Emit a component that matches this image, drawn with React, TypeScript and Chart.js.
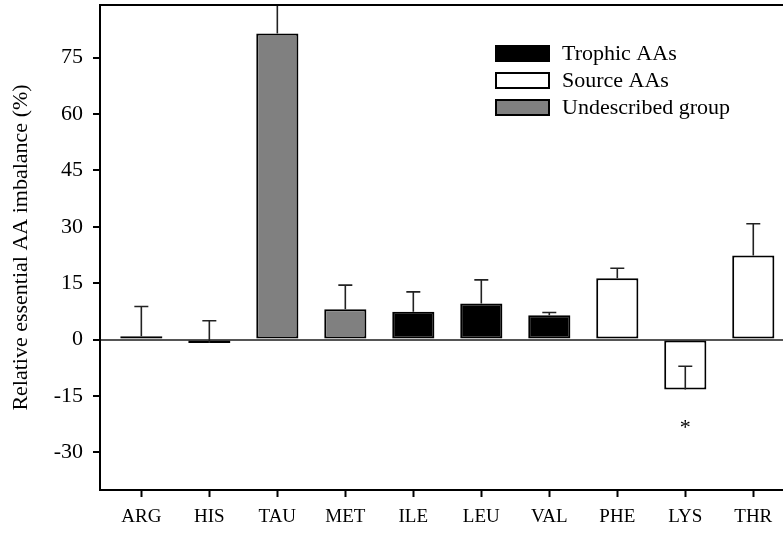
import React, { useEffect, useRef } from "react";
import { Chart, registerables } from "chart.js";

Chart.register(...registerables);

const categories = ["ARG", "HIS", "TAU", "MET", "ILE", "LEU", "VAL", "PHE", "LYS", "THR"];
const values = [0.9, -0.9, 81.4, 8.1, 7.4, 9.6, 6.5, 16.3, -13.3, 22.4];
const errorEnds = [8.8, 5.0, 100, 14.5, 12.7, 15.9, 7.2, 19.0, -7.1, 30.8];
// group index: 0 = Trophic, 1 = Source, 2 = Undescribed
const groups = [2, 2, 2, 2, 0, 0, 0, 1, 1, 1];
const groupLabels = ["Trophic AAs", "Source AAs", "Undescribed group"];
const groupColors = ["#000000", "#ffffff", "#808080"];
const yTickValues = [-30, -15, 0, 15, 30, 45, 60, 75];
const yMin = -40;
const yMax = 89;
const starCategory = 8;
const starValue = -22.5;

const FONT = "'Liberation Serif', 'Times New Roman', serif";

const overlayPlugin = {
  id: "overlay",
  afterDatasetsDraw(chart: any) {
    const { ctx, chartArea, scales } = chart;
    const xs = scales.x;
    const ys = scales.y;
    ctx.save();
    ctx.beginPath();
    ctx.rect(chartArea.left - 1, chartArea.top, chartArea.right - chartArea.left + 2, chartArea.bottom - chartArea.top);
    ctx.clip();
    ctx.strokeStyle = "#222";
    ctx.lineWidth = 1.6;
    categories.forEach((_, i) => {
      const x = xs.getPixelForValue(i);
      const y0 = ys.getPixelForValue(values[i]);
      const y1 = ys.getPixelForValue(errorEnds[i]);
      ctx.beginPath();
      ctx.moveTo(x, y0);
      ctx.lineTo(x, y1);
      ctx.moveTo(x - 7, y1);
      ctx.lineTo(x + 7, y1);
      ctx.stroke();
    });
    ctx.restore();

    // top border
    ctx.save();
    ctx.strokeStyle = "#000";
    ctx.lineWidth = 2;
    ctx.beginPath();
    ctx.moveTo(chartArea.left - 1, chartArea.top);
    ctx.lineTo(chartArea.right, chartArea.top);
    ctx.stroke();

    // significance star
    ctx.fillStyle = "#000";
    ctx.font = `22px ${FONT}`;
    ctx.textAlign = "center";
    ctx.textBaseline = "middle";
    ctx.fillText("*", xs.getPixelForValue(starCategory), ys.getPixelForValue(starValue) + 4);

    // legend
    const lx = 496;
    const ly = 46;
    const rowH = 27;
    ctx.font = `22px ${FONT}`;
    ctx.textAlign = "left";
    chart.data.datasets.forEach((ds: any, k: number) => {
      const y = ly + k * rowH;
      ctx.fillStyle = ds.backgroundColor;
      ctx.fillRect(lx, y, 53, 15);
      ctx.lineWidth = 2;
      ctx.strokeStyle = "#000";
      ctx.strokeRect(lx, y, 53, 15);
      ctx.fillStyle = "#000";
      ctx.fillText(ds.label, lx + 66, y + 8);
    });
    ctx.restore();
  },
};

export default function App() {
  const ref = useRef<HTMLCanvasElement | null>(null);
  useEffect(() => {
    if (!ref.current) return;
    const datasets = groupLabels.map((label, g) => ({
      label,
      data: categories
        .map((_, i) => ({ x: i, y: values[i], g: groups[i] }))
        .filter((p) => p.g === g)
        .map((p) => ({ x: p.x, y: p.y })),
      backgroundColor: groupColors[g],
      borderColor: "#000",
      borderWidth: 2,
      borderSkipped: false,
      grouped: false,
      barPercentage: 0.62,
      categoryPercentage: 1,
    }));
    const chart = new Chart(ref.current, {
      type: "bar",
      data: { datasets } as any,
      options: {
        animation: false,
        responsive: false,
        layout: { padding: { top: 5, right: 0, left: 0, bottom: 0 } },
        plugins: { legend: { display: false }, tooltip: { enabled: false } },
        scales: {
          x: {
            type: "linear",
            offset: false,
            min: -0.608,
            max: 9.437,
            afterBuildTicks: (s: any) => {
              s.ticks = categories.map((_, i) => ({ value: i }));
            },
            afterFit: (s: any) => {
              s.height = 43;
              s.paddingLeft = 0;
              s.paddingRight = 0;
            },
            ticks: {
              callback: (v: any) => categories[v as number],
              font: { family: FONT, size: 19 },
              color: "#000",
              padding: 9,
              autoSkip: false,
              maxRotation: 0,
            },
            grid: {
              offset: false,
              drawOnChartArea: false,
              drawTicks: true,
              tickLength: 7,
              tickWidth: 2,
              tickColor: "#000",
            },
            border: { color: "#000", width: 2 },
          },
          y: {
            min: yMin,
            max: yMax,
            afterBuildTicks: (s: any) => {
              s.ticks = yTickValues.map((v) => ({ value: v }));
            },
            afterFit: (s: any) => {
              s.width = 100;
              s.paddingTop = 0;
              s.paddingBottom = 0;
            },
            ticks: {
              font: { family: FONT, size: 22 },
              color: "#000",
              padding: 10,
            },
            grid: {
              color: (c: any) => (c.tick && c.tick.value === 0 ? "#555" : "rgba(0,0,0,0)"),
              lineWidth: 2,
              drawTicks: true,
              tickLength: 7,
              tickWidth: 2,
              tickColor: "#000",
            },
            border: { color: "#000", width: 2 },
            title: {
              display: true,
              text: "Relative essential AA imbalance (%)",
              font: { family: FONT, size: 22 },
              color: "#000",
              padding: { top: 8, bottom: 0 },
            },
          },
        },
      },
      plugins: [overlayPlugin],
    } as any);
    return () => chart.destroy();
  }, []);
  return (
    <div style={{ position: "fixed", left: 0, top: 0, width: 783, height: 533, overflow: "hidden", background: "#fff" }}>
      <canvas ref={ref} width={783} height={533} style={{ width: 783, height: 533, display: "block" }} />
    </div>
  );
}
